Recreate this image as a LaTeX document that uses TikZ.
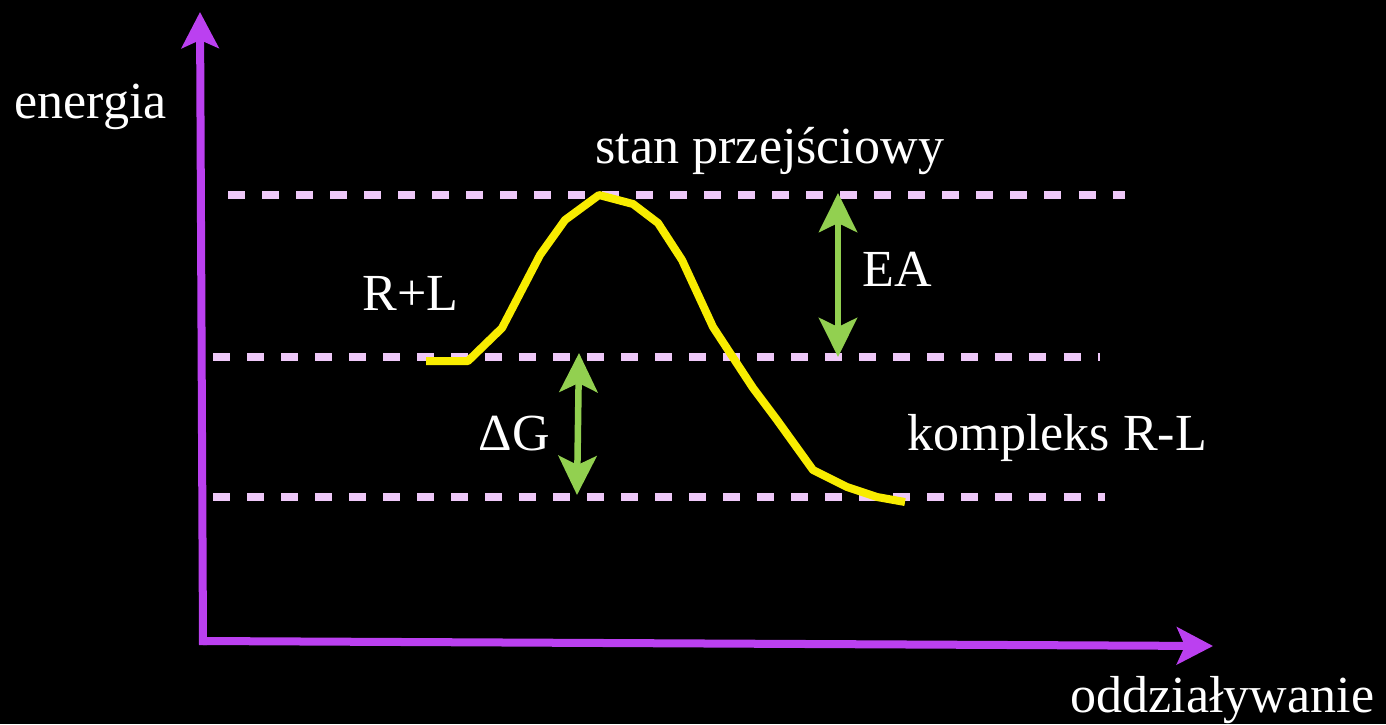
\documentclass[tikz,border=0pt]{standalone}
\usepackage{fontspec}
\setmainfont{Liberation Serif}
\usetikzlibrary{arrows.meta}
\definecolor{axispurple}{RGB}{187,64,240}
\definecolor{levelpink}{RGB}{238,200,248}
\definecolor{pathyellow}{RGB}{248,236,0}
\definecolor{gapgreen}{RGB}{146,208,80}

\begin{document}
\begin{tikzpicture}[x=0.01cm,y=-0.01cm,font=\fontsize{14.8}{18}\selectfont,
  axis/.style={draw=axispurple,line width=0.08cm,
               -{Stealth[length=0.36cm,width=0.37cm,inset=0.08cm]}},
  level/.style={draw=levelpink,line width=0.085cm,dash pattern=on 0.17cm off 0.17cm},
  gap/.style={draw=gapgreen,line width=0.065cm,
              {Stealth[length=0.39cm,width=0.38cm,inset=0.09cm]}-{Stealth[length=0.39cm,width=0.38cm,inset=0.09cm]}},
  label/.style={text=white,inner sep=0pt,anchor=base west}]
\path[use as bounding box,fill=black] (0,0) rectangle (1386,724);

% axes
\coordinate (origin) at (203,641);
\coordinate (ytip) at (200,12);
\coordinate (xtip) at (1213,646);
\draw[axis] (203,645) -- (ytip);
\draw[axis] (origin) -- (xtip);
\node[label] (ylab) at (14,118) {energia};
\node[label] (xlab) at (1070,712) {oddziaływanie};

% energy levels
\coordinate (ts-l) at (228,195); \coordinate (ts-r) at (1125,195);
\coordinate (rl-l) at (213,357); \coordinate (rl-r) at (1100,357);
\coordinate (cx-l) at (213,497); \coordinate (cx-r) at (1105,497);
\draw[level] (ts-l) -- (ts-r);
\draw[level] (rl-l) -- (rl-r);
\draw[level] (cx-l) -- (cx-r);

% reaction path
\draw[pathyellow,line width=0.08cm,line join=round]
  plot coordinates {(426,361) (468,361) (502,328) (540,255) (565,220) (599,195)
    (633,204) (658,223) (682,260) (713,327) (753,388) (777,420) (813,470)
    (847,487) (877,497) (905,502)};

% differences
\coordinate (ea-top) at (838,193); \coordinate (ea-bot) at (838,357);
\coordinate (dg-top) at (579,353); \coordinate (dg-bot) at (577,495);
\draw[gap] (ea-top) -- (ea-bot);
\draw[gap] (dg-top) -- (dg-bot);

\node[label] (ts) at (595,163) {stan przejściowy};
\node[label] (rl) at (362,310) {R+L};
\node[label] (ea) at (862,286) {EA};
\node[label] (dg) at (478,450) {ΔG};
\node[label] (cx) at (907,450) {kompleks R-L};
\end{tikzpicture}
\end{document}
